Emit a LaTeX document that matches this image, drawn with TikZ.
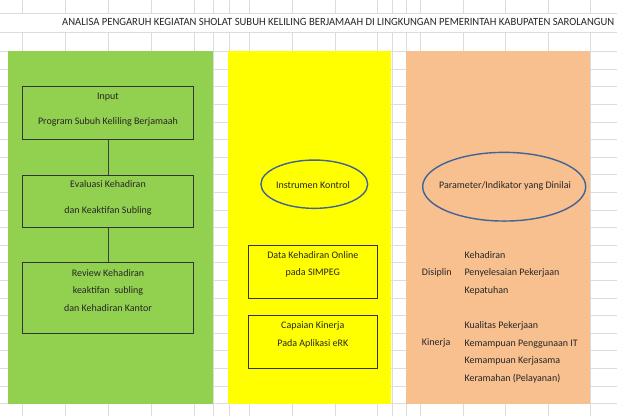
\documentclass[tikz,border=0pt]{standalone}
\usepackage{fontspec}
\setmainfont{Carlito}
\usetikzlibrary{shapes.geometric}
\definecolor{gridc}{HTML}{DCDCDC}
\definecolor{pgreen}{HTML}{92D050}
\definecolor{pyellow}{HTML}{FFFF00}
\definecolor{porange}{HTML}{F8BF8F}
\definecolor{ellc}{HTML}{3F6496}
\definecolor{txtc}{HTML}{262626}
\begin{document}
\begin{tikzpicture}[x=1pt,y=-1pt,
  gridline/.style={gridc, line width=0.8pt},
  stepbox/.style={draw=black!80, line width=0.9pt, rectangle, inner sep=0pt},
  oval/.style={draw=ellc, line width=1.4pt, ellipse, inner sep=0pt},
  txt/.style={text=txtc, inner sep=0pt, align=center, font=\fontsize{10}{17.6}\selectfont},
  ltxt/.style={text=txtc, inner sep=0pt, align=left, anchor=west, font=\fontsize{10}{17.6}\selectfont},
  link/.style={draw=black!75, line width=0.9pt}]
\useasboundingbox (0,0) rectangle (617,416);
\clip (0,0) rectangle (617,416);
% spreadsheet grid
\foreach \x in {22,65,108,151,194,213,229,249,292,335,377,392,406,420,463,505,548,590} {
  \draw[gridline] (\x,0) -- (\x,13);
  \draw[gridline] (\x,32) -- (\x,416);
}
\foreach \y in {13,32} \draw[gridline] (0,\y) -- (617,\y);
\foreach \k in {0,...,20} \draw[gridline] (0,{51.5+17.6*\k}) -- (617,{51.5+17.6*\k});
% title
\node[anchor=west, inner sep=0pt, text=txtc, font=\fontsize{11}{13}\selectfont] (title) at (62,22)
  {\resizebox{552pt}{\height}{ANALISA PENGARUH KEGIATAN SHOLAT SUBUH KELILING BERJAMAAH DI LINGKUNGAN PEMERINTAH KABUPATEN SAROLANGUN}};
% panels
\fill[pgreen] (8,51) rectangle (213,404);
\fill[pyellow] (228,51) rectangle (391,404);
\fill[porange] (406,51) rectangle (590,404);
% green column
\node[stepbox, minimum width=170.6pt, minimum height=52.6pt] (b1) at (108,113) {};
\node[txt] (b1t) at (108,109.5) {Input\\[8pt]Program Subuh Keliling Berjamaah};
\node[stepbox, minimum width=170.6pt, minimum height=52.3pt] (b2) at (108,201.2) {};
\node[txt] (b2t) at (108,197.9) {Evaluasi Kehadiran\\[8pt]dan Keaktifan Subling};
\node[stepbox, minimum width=170.6pt, minimum height=70.6pt] (b3) at (108,298) {};
\node[txt] (b3t) at (108,290.5) {Review Kehadiran\\keaktifan\ \ subling\\dan Kehadiran Kantor};
\draw[link] (b1) -- (b2);
\draw[link] (b2) -- (b3);
% yellow column
\node[oval, minimum width=106.7pt, minimum height=48.3pt] (e1) at (314.3,184.2) {};
\node[txt] (e1t) at (313,185) {Instrumen Kontrol};
\node[stepbox, minimum width=129pt, minimum height=53.3pt] (y1) at (312.8,271.7) {};
\node[txt] (y1t) at (312.8,264.5) {Data Kehadiran Online\\pada SIMPEG};
\node[stepbox, minimum width=129pt, minimum height=52.6pt] (y2) at (312.8,342) {};
\node[txt] (y2t) at (312.8,334.7) {Capaian Kinerja\\Pada Aplikasi eRK};
% orange column
\node[oval, minimum width=163pt, minimum height=68.7pt] (e2) at (504.2,186.7) {};
\node[txt] (e2t) at (505,185.7) {Parameter/Indikator yang Dinilai};
\node[ltxt] (dis) at (421.7,273.3) {Disiplin};
\node[ltxt] (disl) at (464.3,273) {Kehadiran\\Penyelesaian Pekerjaan\\Kepatuhan};
\node[ltxt] (kin) at (421.7,343.3) {Kinerja};
\node[ltxt] (kinl) at (464.3,352.3) {Kualitas Pekerjaan\\Kemampuan Penggunaan IT\\Kemampuan Kerjasama\\Keramahan (Pelayanan)};
\end{tikzpicture}
\end{document}
